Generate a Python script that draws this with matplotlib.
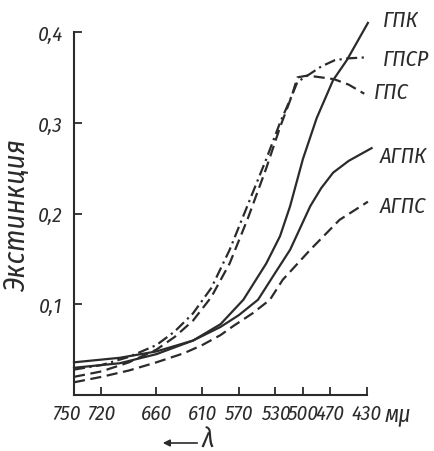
import matplotlib
matplotlib.use("Agg")
import matplotlib.pyplot as plt
import matplotlib.transforms as mtransforms

# ====== DATA ======
xticks = [750, 720, 660, 610, 570, 530, 500, 470, 430]
yticks = [0.1, 0.2, 0.3, 0.4]
ytick_labels = ["0,1", "0,2", "0,3", "0,4"]

gpk_wl = [750, 700, 660, 620, 590, 565, 540, 525, 514, 500, 485, 467, 452, 429]
gpk_val = [0.030, 0.035, 0.045, 0.060, 0.078, 0.105, 0.145, 0.175, 0.208, 0.260, 0.305, 0.347, 0.369, 0.410]

gpsr_wl = [750, 720, 690, 660, 640, 620, 600, 580, 560, 540, 525, 512, 506, 495, 480, 465, 450, 432]
gpsr_val = [0.028, 0.033, 0.042, 0.055, 0.070, 0.090, 0.118, 0.160, 0.210, 0.260, 0.300, 0.330, 0.345, 0.352, 0.362, 0.369, 0.371, 0.372]

gps_wl = [750, 720, 690, 660, 640, 620, 600, 580, 560, 540, 525, 512, 506, 495, 480, 466, 450, 433]
gps_val = [0.020, 0.026, 0.036, 0.050, 0.064, 0.082, 0.108, 0.145, 0.195, 0.250, 0.295, 0.330, 0.350, 0.352, 0.350, 0.348, 0.342, 0.332]

agpk_wl = [750, 700, 660, 620, 590, 570, 549, 530, 514, 492, 480, 467, 450, 425]
agpk_val = [0.036, 0.041, 0.048, 0.060, 0.075, 0.088, 0.105, 0.135, 0.160, 0.208, 0.228, 0.245, 0.258, 0.272]

agps_wl = [750, 720, 690, 660, 630, 610, 590, 576, 555, 536, 522, 492, 460, 429]
agps_val = [0.014, 0.020, 0.027, 0.036, 0.046, 0.055, 0.066, 0.076, 0.090, 0.105, 0.127, 0.160, 0.193, 0.213]

labels = ["ГПК", "ГПСР", "ГПС", "АГПК", "АГПС"]

# ====== FIGURE ======
W, H = 434, 452
fig = plt.figure(figsize=(W / 100, H / 100), dpi=100)
fig.patch.set_facecolor("white")
ax = fig.add_axes([74 / W, 1 - 396 / H, (367 - 74) / W, (396 - 33) / H])

ink = "#2b2b2b"
fam = ["Fira Sans Condensed", "DejaVu Sans"]

ax.plot(gpk_wl, gpk_val, color=ink, lw=1.6, ls="-", clip_on=False)
ax.plot(agpk_wl, agpk_val, color=ink, lw=1.6, ls="-", clip_on=False)
ax.plot(gps_wl, gps_val, color=ink, lw=1.6, ls=(0, (5, 2.5)), clip_on=False)
ax.plot(agps_wl, agps_val, color=ink, lw=1.6, ls=(0, (5, 2.5)), clip_on=False)
ax.plot(gpsr_wl, gpsr_val, color=ink, lw=1.6, ls=(0, (5, 2, 1, 2)), clip_on=False)

ax.set_xlim(750, 430)
ax.set_ylim(0, 0.4)

for s in ["top", "right"]:
    ax.spines[s].set_visible(False)
for s in ["left", "bottom"]:
    ax.spines[s].set_linewidth(1.5)
    ax.spines[s].set_color(ink)

num_font = dict(family=fam, style="italic", size=15)
ax.set_xticks(xticks)
ax.set_xticklabels([str(v) for v in xticks], fontdict=num_font, color=ink)
ax.set_yticks(yticks)
ax.set_yticklabels(ytick_labels, fontdict=num_font, color=ink)
ax.tick_params(direction="in", length=6, width=1.3, color=ink)
ax.tick_params(axis="x", pad=6)
ax.tick_params(axis="y", pad=8)

# first label sits a little left of its tick, as in the print
xl = ax.get_xticklabels()
xl[0].set_transform(xl[0].get_transform() + mtransforms.ScaledTranslation(-8 / 100, 0, fig.dpi_scale_trans))

lab_font = dict(family=fam, style="italic", size=16, color=ink)
ax.text(413, 0.413, labels[0], ha="left", va="center", clip_on=False, **lab_font)
ax.text(413, 0.371, labels[1], ha="left", va="center", clip_on=False, **lab_font)
ax.text(423, 0.334, labels[2], ha="left", va="center", clip_on=False, **lab_font)
ax.text(416, 0.264, labels[3], ha="left", va="center", clip_on=False, **lab_font)
ax.text(416, 0.208, labels[4], ha="left", va="center", clip_on=False, **lab_font)

fig.text(17 / W, 1 - 215 / H, "Экстинкция", rotation=90, ha="center", va="center",
         family=fam, style="italic", size=21, color=ink)
fig.text(398 / W, 1 - 414 / H, "мμ", ha="center", va="center",
         family=fam, style="italic", size=17, color=ink)

# arrow and lambda under the axis
ax.annotate("", xy=(160 / W, 1 - 444 / H), xytext=(200 / W, 1 - 444 / H),
            xycoords="figure fraction", textcoords="figure fraction",
            arrowprops=dict(arrowstyle="-|>", color=ink, lw=1.2, mutation_scale=10))
fig.text(208 / W, 1 - 440 / H, "λ", ha="center", va="center",
         family=fam, style="italic", size=20, color=ink)

fig.savefig("out.png", dpi=100, facecolor="white")
